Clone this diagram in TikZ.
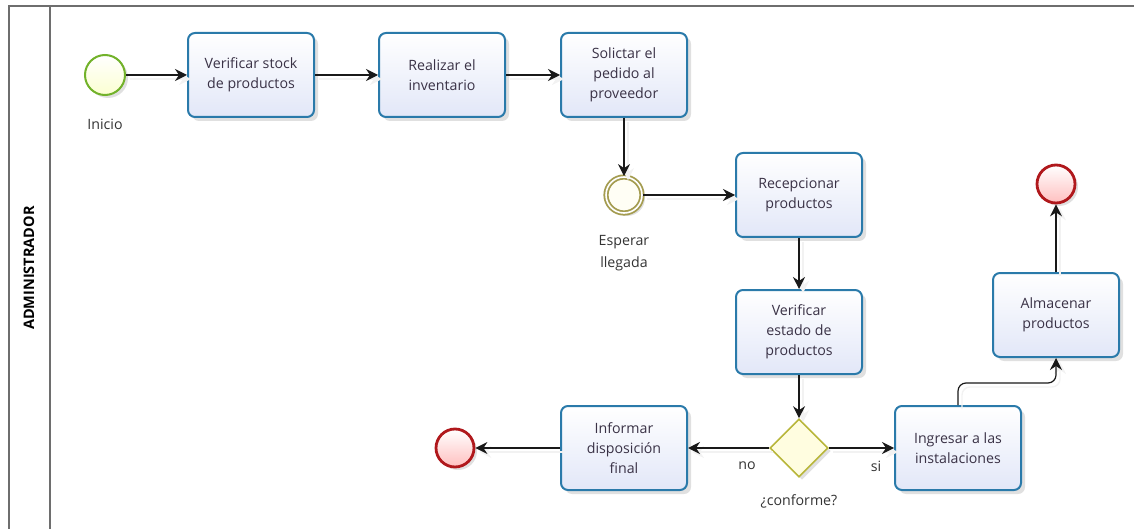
\documentclass[tikz,border=0pt]{standalone}
\usepackage{fontspec}
\setmainfont{Open Sans}
\usetikzlibrary{arrows.meta,shapes.geometric,shadows}
\definecolor{taskline}{HTML}{2A7AAA}
\definecolor{tasktop}{HTML}{FFFFFF}
\definecolor{taskbot}{HTML}{E2E7F8}
\definecolor{txt}{HTML}{3A3246}
\definecolor{startline}{HTML}{72B22A}
\definecolor{endline}{HTML}{B0181C}
\definecolor{midline}{HTML}{A49C50}
\definecolor{gateline}{HTML}{B8B63A}
\definecolor{poolline}{HTML}{6E6E6E}
\tikzset{
  task/.style={draw=taskline, line width=2pt, rounded corners=7pt,
    top color=tasktop, bottom color=taskbot,
    minimum width=126pt, minimum height=84pt, align=center, text=txt,
    font=\fontsize{14.2}{20}\selectfont,
    drop shadow={shadow xshift=4pt, shadow yshift=-4pt, opacity=0.12, fill=black}},
  startev/.style={circle, draw=startline, line width=2pt, minimum size=40pt,
    inner sep=0pt, top color=white, bottom color=green!8!yellow!18,
    drop shadow={shadow xshift=3pt, shadow yshift=-3pt, opacity=0.12, fill=black}},
  endev/.style={circle, draw=endline, line width=2.8pt, minimum size=38pt,
    inner sep=0pt, top color=white, bottom color=red!25,
    drop shadow={shadow xshift=3pt, shadow yshift=-3pt, opacity=0.12, fill=black}},
  midev/.style={circle, draw=midline, line width=1.8pt, double=white,
    double distance=1.6pt, minimum size=36pt, inner sep=0pt, fill=yellow!4,
    drop shadow={shadow xshift=3pt, shadow yshift=-3pt, opacity=0.12, fill=black}},
  gate/.style={diamond, draw=gateline, line width=1.6pt, aspect=1,
    minimum width=58pt, minimum height=58pt, inner sep=0pt, fill=yellow!12,
    drop shadow={shadow xshift=3pt, shadow yshift=-3pt, opacity=0.12, fill=black}},
  lbl/.style={text=black!80, font=\fontsize{14.2}{22}\selectfont, align=center},
  flow/.style={draw=black!90, line width=1.2pt,
    -{Stealth[length=12pt,width=12pt,inset=4pt]},
    preaction={draw=black!5, line width=1.4pt,
      transform canvas={shift={(4pt,-4pt)}}}},
}
\begin{document}
\begin{tikzpicture}[x=1pt,y=-1pt]
\useasboundingbox (0,0) rectangle (1134,529);

% pool and lane header
\draw[poolline, line width=1.4pt] (9,529) -- (9,6) -- (1134,6);
\draw[poolline, line width=1.4pt] (50,6) -- (50,529);
\node[rotate=90, font=\bfseries\fontsize{14.5}{16}\selectfont, text=black] (lane) at (29,268) {ADMINISTRADOR};

% events
\node[startev] (start) at (105,75) {};
\node[lbl] (startlbl) at (105,124) {Inicio};
\node[midev] (wait) at (624,195) {};
\node[lbl] (waitlbl) at (624,253) {Esperar\\llegada};
\node[endev] (endA) at (455,448) {};
\node[endev] (endB) at (1056,184) {};

% tasks
\node[task] (t1) at (251,75) {Verificar stock\\de productos};
\node[task] (t2) at (442,75) {Realizar el\\inventario};
\node[task] (t3) at (624,75) {Solictar el\\pedido al\\proveedor};
\node[task] (t4) at (799,195) {Recepcionar\\productos};
\node[task] (t5) at (799,332) {Verificar\\estado de\\productos};
\node[task] (t6) at (624,448) {Informar\\disposición\\final};
\node[task] (t7) at (958,448) {Ingresar a las\\instalaciones};
\node[task] (t8) at (1056,315) {Almacenar\\productos};

% gateway
\node[gate] (g) at (799,448) {};
\node[lbl] (glbl) at (799,501) {¿conforme?};
\node[lbl] (nolbl) at (747,466) {no};
\node[lbl] (silbl) at (876,466) {si};

% sequence flows
\draw[flow] (start) -- (t1);
\draw[flow] (t1) -- (t2);
\draw[flow] (t2) -- (t3);
\draw[flow] (t3) -- (wait);
\draw[flow] (wait) -- (t4);
\draw[flow] (t4) -- (t5);
\draw[flow] (t5) -- (g);
\draw[flow] (g) -- (t6);
\draw[flow] (t6) -- (endA);
\draw[flow] (g) -- (t7);
\coordinate (bend) at (958,383);
\draw[flow, rounded corners=8pt] (t7.north) -- (bend) -- (t8.south |- bend) -- (t8.south);
\draw[flow] (t8) -- (endB);
\end{tikzpicture}
\end{document}
